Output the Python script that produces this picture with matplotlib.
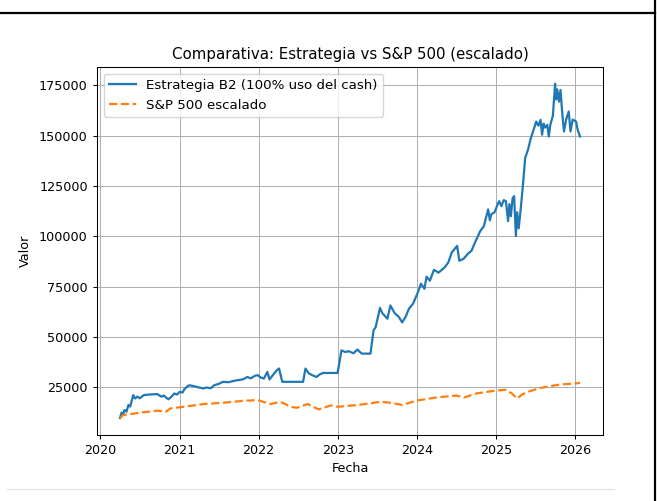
import matplotlib
matplotlib.use("Agg")
import matplotlib.pyplot as plt
import matplotlib.dates as mdates
from matplotlib.lines import Line2D
import pandas as pd

strat_dates = [
    "2020-04-01", "2020-04-08", "2020-04-15", "2020-04-22", "2020-05-01", "2020-05-10",
    "2020-05-18", "2020-06-01", "2020-06-10", "2020-06-20", "2020-07-01", "2020-07-20",
    "2020-08-15", "2020-09-20", "2020-10-10", "2020-10-20", "2020-11-10", "2020-11-25",
    "2020-12-08", "2020-12-20", "2021-01-01", "2021-01-15", "2021-01-22", "2021-02-05",
    "2021-02-15", "2021-03-01", "2021-03-20", "2021-04-20", "2021-05-05", "2021-05-25",
    "2021-06-10", "2021-07-01", "2021-07-20", "2021-08-15", "2021-09-10", "2021-09-25",
    "2021-10-20", "2021-11-10", "2021-11-25", "2021-12-15", "2021-12-28", "2022-01-10",
    "2022-01-25", "2022-02-10", "2022-02-20", "2022-03-10", "2022-03-25", "2022-04-05",
    "2022-04-20", "2022-07-25", "2022-08-05", "2022-08-20", "2022-09-05", "2022-09-25",
    "2022-10-10", "2022-10-25", "2022-12-31", "2023-01-08", "2023-01-18", "2023-02-05",
    "2023-02-20", "2023-03-15", "2023-04-01", "2023-04-22", "2023-06-01", "2023-06-15",
    "2023-06-25", "2023-07-15", "2023-07-25", "2023-08-18", "2023-09-01", "2023-09-20",
    "2023-10-10", "2023-10-25", "2023-11-10", "2023-11-25", "2023-12-15", "2024-01-05",
    "2024-01-20", "2024-02-05", "2024-02-15", "2024-03-01", "2024-03-20", "2024-04-10",
    "2024-05-08", "2024-05-25", "2024-06-10", "2024-07-05", "2024-07-15", "2024-08-05",
    "2024-08-22", "2024-09-10", "2024-09-25", "2024-10-20", "2024-11-05", "2024-11-25",
    "2024-12-03", "2024-12-10", "2024-12-25", "2025-01-08", "2025-01-15", "2025-01-25",
    "2025-02-05", "2025-02-15", "2025-02-25", "2025-03-03", "2025-03-10", "2025-03-18",
    "2025-03-25", "2025-04-02", "2025-04-08", "2025-04-15", "2025-04-22", "2025-05-05",
    "2025-05-15", "2025-05-28", "2025-06-10", "2025-06-20", "2025-07-05", "2025-07-15",
    "2025-07-25", "2025-08-01", "2025-08-08", "2025-08-15", "2025-08-25", "2025-09-01",
    "2025-09-08", "2025-09-20", "2025-09-30", "2025-10-05", "2025-10-10", "2025-10-18",
    "2025-10-25", "2025-11-03", "2025-11-10", "2025-11-20", "2025-12-02", "2025-12-10",
    "2025-12-20", "2026-01-05", "2026-01-12", "2026-01-23",
]
strat_values = [
    9800, 12500, 11500, 13800, 13000, 16300,
    15500, 21200, 19500, 20500, 19600, 21200,
    21500, 21700, 20400, 21000, 19100, 20500,
    22000, 21500, 22800, 22500, 24000, 25500,
    26100, 25800, 25300, 24500, 25000, 24600,
    26100, 26800, 27800, 27600, 28300, 28600,
    29000, 30200, 29500, 30800, 31100, 30000,
    29400, 32700, 29000, 31500, 33500, 34400,
    27800, 27800, 34400, 32000, 31100, 30200,
    31500, 32200, 32200, 36900, 43400, 42600,
    43000, 42000, 43800, 41800, 41800, 53300,
    55000, 64500, 62000, 59100, 65700, 62000,
    60000, 57300, 60000, 64000, 66700, 72000,
    76500, 74000, 80000, 78000, 83400, 82000,
    84600, 87000, 92000, 95300, 87900, 89000,
    91200, 93000, 96900, 102700, 105000, 113400,
    108000, 111000, 112000, 116000, 117500, 115000,
    118000, 117500, 107600, 116000, 110000, 119000,
    120000, 100200, 112000, 104000, 111000, 125800,
    139000, 143000, 148800, 152000, 157000, 155000,
    157900, 150500, 156000, 154000, 155400, 149600,
    155400, 160000, 175800, 168000, 173000, 166900,
    172700, 160000, 152100, 158000, 162000, 152100,
    158000, 157000, 153000, 149600,
]

sp_dates = [
    "2020-04-01", "2020-04-15", "2020-06-01", "2020-07-01", "2020-09-20", "2020-10-30",
    "2020-11-20", "2021-01-20", "2021-04-20", "2021-07-20", "2021-10-25", "2021-12-28",
    "2022-02-25", "2022-04-10", "2022-05-30", "2022-06-25", "2022-08-15", "2022-10-05",
    "2022-11-30", "2023-01-01", "2023-04-01", "2023-06-01", "2023-07-15", "2023-09-01",
    "2023-10-25", "2024-01-01", "2024-03-30", "2024-07-01", "2024-08-05", "2024-10-01",
    "2024-12-01", "2025-01-01", "2025-02-15", "2025-03-15", "2025-04-08", "2025-05-01",
    "2025-06-01", "2025-07-25", "2025-10-25", "2026-01-05", "2026-01-23",
]
sp_values = [
    9700, 11300, 12000, 12450, 13450, 13000,
    14600, 15400, 16750, 17400, 18400, 18700,
    16750, 17900, 15400, 14900, 16750, 14100,
    16100, 15400, 16300, 17100, 17900, 17400,
    16300, 18500, 20000, 21000, 20000, 22000,
    23000, 23500, 23800, 22000, 19500, 21500,
    23000, 24800, 26500, 27000, 27300,
]

title = "Comparativa: Estrategia vs S&P 500 (escalado)"
label_strat = "Estrategia B2 (100% uso del cash)"
label_sp = "S&P 500 escalado"

W, H = 657, 501
fig = plt.figure(figsize=(W / 100, H / 100), dpi=100)
fig.patch.set_facecolor("white")

left, right, top, bottom = 97, 603, 67, 435
ax = fig.add_axes([left / W, (H - bottom) / H, (right - left) / W, (bottom - top) / H])

ax.plot(pd.to_datetime(strat_dates), strat_values, color="#1f77b4", lw=1.6, label=label_strat)
ax.plot(pd.to_datetime(sp_dates), sp_values, color="#ff7f0e", lw=1.6, ls="--", label=label_sp)

ax.xaxis.set_major_locator(mdates.YearLocator())
ax.xaxis.set_major_formatter(mdates.DateFormatter("%Y"))
ax.set_yticks([25000, 50000, 75000, 100000, 125000, 150000, 175000])
ax.grid(True, lw=0.75)
ax.tick_params(labelsize=9.2, length=3.2, width=0.75)
for s in ax.spines.values():
    s.set_linewidth(0.75)
ax.set_title(title, fontsize=10.8, pad=5.4)
ax.set_xlabel("Fecha", fontsize=9.2, labelpad=3.5)
ax.set_ylabel("Valor", fontsize=9.2, labelpad=5)
ax.legend(loc="upper left", fontsize=9.6)

fig.add_artist(Line2D([0, 655 / W], [1 - 13 / H, 1 - 13 / H], color="black", lw=1.6, transform=fig.transFigure))
fig.add_artist(Line2D([654.5 / W, 654.5 / W], [0, 1], color="black", lw=1.6, transform=fig.transFigure))
fig.add_artist(Line2D([7 / W, 614 / W], [1 - 489 / H, 1 - 489 / H], color="#e6e6e6", lw=1.0, transform=fig.transFigure))

fig.savefig("out.png", dpi=100)
